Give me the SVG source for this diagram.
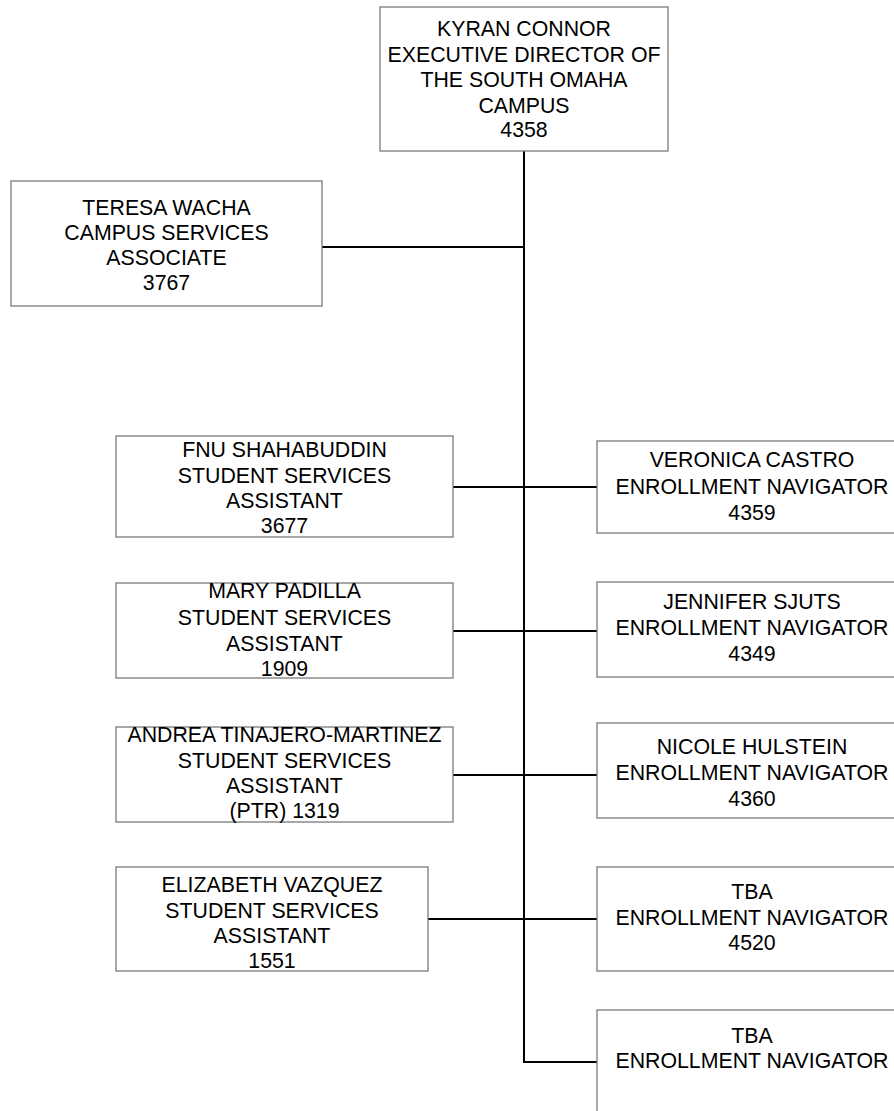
<svg xmlns="http://www.w3.org/2000/svg" width="894" height="1111" viewBox="0 0 894 1111">
<style>
.box{fill:#ffffff;stroke:#7a7a7a;stroke-width:1.3}
.t{font-family:"Liberation Sans",Arial,sans-serif;font-size:21.3px;fill:#000;text-anchor:middle}
.c{stroke:#000;stroke-width:2;fill:none}
</style>
<rect x="0" y="0" width="894" height="1111" fill="#ffffff"/>
<g id="connectors">
<line class="c" x1="524" y1="151" x2="524" y2="1063"/>
<line class="c" x1="322" y1="247" x2="524" y2="247"/>
<line class="c" x1="453" y1="487" x2="597" y2="487"/>
<line class="c" x1="453" y1="631" x2="597" y2="631"/>
<line class="c" x1="453" y1="775" x2="597" y2="775"/>
<line class="c" x1="428" y1="919" x2="597" y2="919"/>
<line class="c" x1="523" y1="1062" x2="597" y2="1062"/>
</g>
<g id="kyran">
<rect class="box" x="380" y="7" width="288" height="144"/>
<text class="t" x="524" y="36">KYRAN CONNOR</text>
<text class="t" x="524" y="62">EXECUTIVE DIRECTOR OF</text>
<text class="t" x="524" y="87">THE SOUTH OMAHA</text>
<text class="t" x="524" y="113">CAMPUS</text>
<text class="t" x="524" y="137">4358</text>
</g>
<g id="teresa">
<rect class="box" x="11" y="181" width="311" height="125"/>
<text class="t" x="166.5" y="215">TERESA WACHA</text>
<text class="t" x="166.5" y="240">CAMPUS SERVICES</text>
<text class="t" x="166.5" y="265">ASSOCIATE</text>
<text class="t" x="166.5" y="290">3767</text>
</g>
<g id="fnu">
<rect class="box" x="116" y="436" width="337" height="101"/>
<text class="t" x="284.5" y="457">FNU SHAHABUDDIN</text>
<text class="t" x="284.5" y="483">STUDENT SERVICES</text>
<text class="t" x="284.5" y="508">ASSISTANT</text>
<text class="t" x="284.5" y="533">3677</text>
</g>
<g id="mary">
<rect class="box" x="116" y="583" width="337" height="95"/>
<text class="t" x="284.5" y="598">MARY PADILLA</text>
<text class="t" x="284.5" y="625">STUDENT SERVICES</text>
<text class="t" x="284.5" y="651">ASSISTANT</text>
<text class="t" x="284.5" y="676">1909</text>
</g>
<g id="andrea">
<rect class="box" x="116" y="727" width="337" height="95"/>
<text class="t" x="284.5" y="742">ANDREA TINAJERO-MARTINEZ</text>
<text class="t" x="284.5" y="768">STUDENT SERVICES</text>
<text class="t" x="284.5" y="793">ASSISTANT</text>
<text class="t" x="284.5" y="818">(PTR) 1319</text>
</g>
<g id="elizabeth">
<rect class="box" x="116" y="867" width="312" height="104"/>
<text class="t" x="272" y="892">ELIZABETH VAZQUEZ</text>
<text class="t" x="272" y="918">STUDENT SERVICES</text>
<text class="t" x="272" y="943">ASSISTANT</text>
<text class="t" x="272" y="968">1551</text>
</g>
<g id="veronica">
<rect class="box" x="597" y="441" width="310" height="92"/>
<text class="t" x="752" y="467">VERONICA CASTRO</text>
<text class="t" x="752" y="494">ENROLLMENT NAVIGATOR</text>
<text class="t" x="752" y="520">4359</text>
</g>
<g id="jennifer">
<rect class="box" x="597" y="582" width="310" height="95"/>
<text class="t" x="752" y="609">JENNIFER SJUTS</text>
<text class="t" x="752" y="635">ENROLLMENT NAVIGATOR</text>
<text class="t" x="752" y="661">4349</text>
</g>
<g id="nicole">
<rect class="box" x="597" y="723" width="310" height="95"/>
<text class="t" x="752" y="754">NICOLE HULSTEIN</text>
<text class="t" x="752" y="780">ENROLLMENT NAVIGATOR</text>
<text class="t" x="752" y="806">4360</text>
</g>
<g id="tba1">
<rect class="box" x="597" y="867" width="310" height="104"/>
<text class="t" x="752" y="899">TBA</text>
<text class="t" x="752" y="925">ENROLLMENT NAVIGATOR</text>
<text class="t" x="752" y="950">4520</text>
</g>
<g id="tba2">
<rect class="box" x="597" y="1010" width="310" height="110"/>
<text class="t" x="752" y="1043">TBA</text>
<text class="t" x="752" y="1068">ENROLLMENT NAVIGATOR</text>
</g>
</svg>
